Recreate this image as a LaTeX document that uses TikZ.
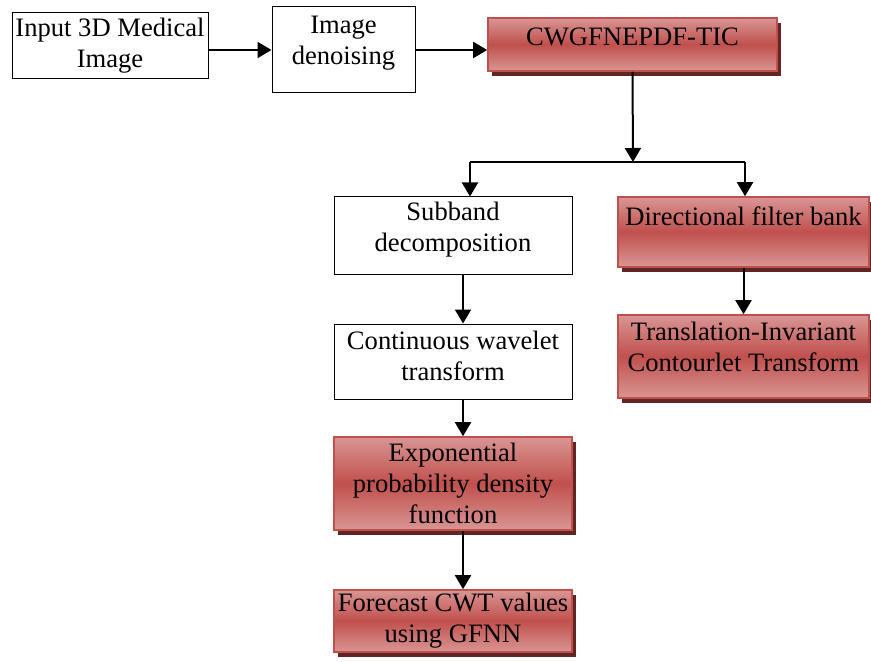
\documentclass[tikz,border=0pt]{standalone}
\usepackage{fontspec}
\setmainfont{Liberation Serif}
\usetikzlibrary{arrows.meta,shadows}
\definecolor{rlight}{RGB}{217,150,148}
\definecolor{rmid}{RGB}{192,80,77}
\definecolor{rshadow}{RGB}{99,37,35}
\tikzset{
  box/.style={draw, line width=0.5pt, inner sep=0pt, align=center,
    font=\fontsize{13.3pt}{15.5pt}\selectfont},
  redbox/.style={box, draw=rmid, line width=0.8pt,
    top color=rlight, bottom color=rlight, middle color=rmid,
    drop shadow={shadow xshift=2pt, shadow yshift=-2.5pt, fill=rshadow, opacity=1}},
  arr/.style={-{Triangle[length=7pt,width=8pt]}, line width=1pt}
}

\begin{document}
\begin{tikzpicture}[x=0.5pt,y=-0.5pt]
\useasboundingbox (0,0) rectangle (871,662);
% top row
\node[box, minimum width=98pt, minimum height=33pt] (input) at (110,46) {Input 3D Medical\\Image};
\node[box, minimum width=71.5pt, minimum height=43pt] (denoise) at (343.5,50) {Image\\denoising\rule[-10pt]{0pt}{0pt}};
\node[redbox, minimum width=144.5pt, minimum height=26.5pt] (tic) at (632.5,44.5) {CWGFNEPDF-TIC\rule[-7.5pt]{0pt}{0pt}};
% left column
\node[box, minimum width=119pt, minimum height=39pt] (subband) at (453,236) {Subband\\decomposition\rule[-9pt]{0pt}{0pt}};
\node[box, minimum width=119pt, minimum height=37.5pt] (cwt) at (453,361.5) {Continuous wavelet\\transform\rule[-6pt]{0pt}{0pt}};
\node[redbox, minimum width=119pt, minimum height=46.5pt] (epdf) at (453,483.5) {Exponential\\probability density\\function};
\node[redbox, minimum width=119pt, minimum height=31pt] (gfnn) at (453,621) {Forecast CWT values\\using GFNN};
% right column
\node[redbox, minimum width=125.5pt, minimum height=35pt] (dfb) at (743.5,232) {Directional filter bank\rule[-16pt]{0pt}{0pt}};
\node[redbox, minimum width=125.5pt, minimum height=41.5pt] (tict) at (743.5,356.5) {Translation-Invariant\\Contourlet Transform\rule[-10pt]{0pt}{0pt}};

\coordinate (split) at (633,162);
\coordinate (splitl) at (470,162);
\coordinate (splitr) at (745,162);

\draw[arr] (input.east |- denoise) -- (denoise.west);
\draw[arr] (denoise.east) -- (denoise.east -| tic.west);
\draw[arr] (tic.south) -- (split);
\draw[line width=0.6pt] (splitl) -- (splitr);
\draw[arr] (splitl) -- (splitl |- subband.north);
\draw[arr] (splitr) -- (splitr |- dfb.north);
\draw[arr] (dfb.south) -- (tict.north);
\draw[arr] ([xshift=5pt]subband.south) -- ([xshift=5pt]cwt.north);
\draw[arr] ([xshift=5pt]cwt.south) -- ([xshift=5pt]epdf.north);
\draw[arr] ([xshift=5pt]epdf.south) -- ([xshift=5pt]gfnn.north);
\end{tikzpicture}
\end{document}
